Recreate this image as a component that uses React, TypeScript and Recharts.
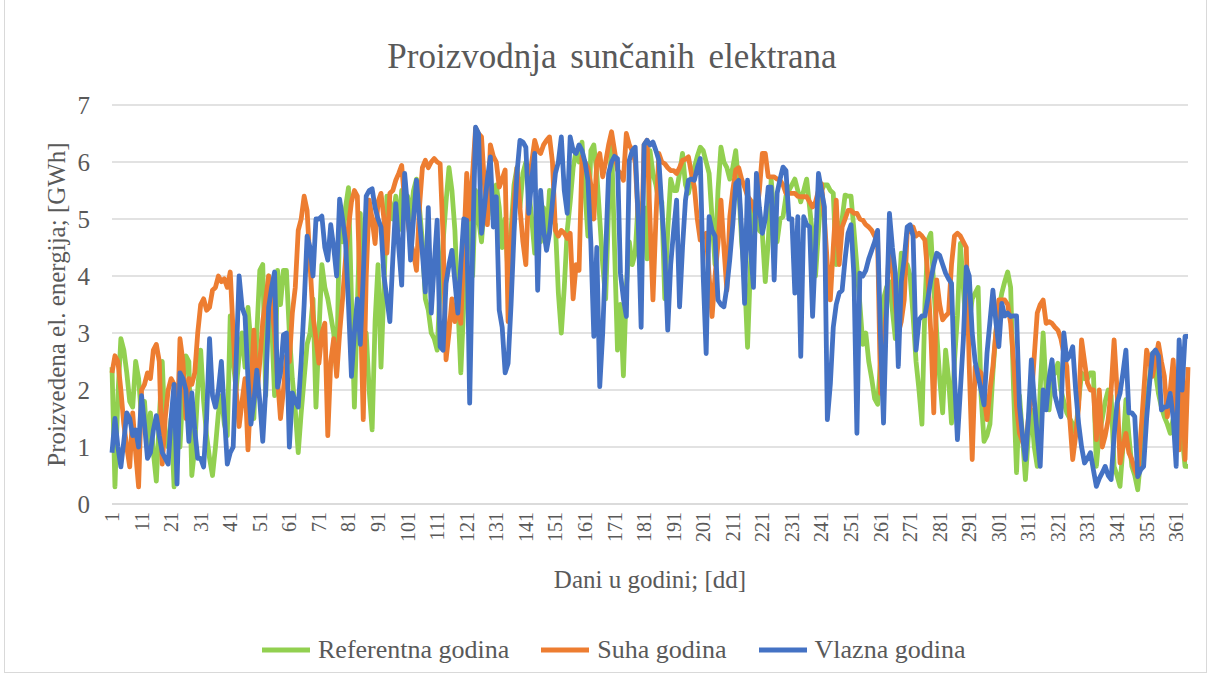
import { LineChart, Line, XAxis, YAxis, CartesianGrid } from 'recharts';

const FONT = '"Liberation Serif", "Times New Roman", serif';
const TEXT = '#595959';

// days of the year (category axis)
const days = Array.from({ length: 365 }, (_, i) => i + 1);
const yTicks = [0, 1, 2, 3, 4, 5, 6, 7];

// Referentna godina [GWh]
const referentna = [
  2.4, 0.3, 1.9, 2.9, 2.7, 2.3, 1.8, 1.7, 2.5, 2.2,
  1.5, 1.8, 1.0, 1.6, 0.9, 0.4, 1.5, 2.5, 1.2, 1.0,
  1.5, 0.3, 1.8, 1.0, 2.0, 2.6, 2.5, 0.5, 1.0, 2.0,
  2.7, 1.8, 1.2, 0.8, 0.5, 1.0, 1.6, 1.9, 1.4, 1.2,
  3.3, 2.5, 2.0, 2.6, 3.0, 2.4, 3.45, 2.8, 1.5, 3.0,
  4.1, 4.2, 1.9, 4.0, 3.2, 1.9, 4.1, 3.5, 4.1, 4.1,
  3.0, 2.2, 1.65, 0.9, 1.6, 2.2, 2.8, 3.0, 3.6, 1.7,
  3.0, 4.2, 3.8, 3.6, 3.3, 3.0, 2.3, 5.0, 4.6, 5.2,
  5.55, 3.6, 1.7, 3.5, 5.1, 2.2, 3.0, 2.0, 1.3, 3.2,
  4.2, 2.4, 3.8, 5.4, 5.3, 5.0, 5.4, 4.8, 5.5, 5.3,
  5.4, 5.0, 5.5, 5.7, 5.2, 4.6, 3.6, 3.4, 3.0, 2.9,
  2.7, 3.8, 4.6, 5.3, 5.9, 5.5, 4.8, 3.5, 2.3, 3.5,
  4.8, 5.2, 4.0, 5.5, 5.0, 4.6, 5.3, 5.8, 5.5, 5.0,
  5.6, 5.2, 4.5, 5.0, 4.0, 4.8, 5.6, 5.9, 5.2, 5.8,
  6.0, 5.5, 5.0, 4.4, 5.0, 4.6, 5.2, 4.6, 5.5, 5.0,
  4.9, 3.7, 3.0, 3.8, 4.8, 5.3, 5.9, 6.2, 6.0, 6.35,
  5.5, 4.7, 6.2, 6.3, 5.8, 5.0, 4.2, 3.6, 5.2, 6.35,
  4.5, 2.7, 3.5, 2.25, 3.8, 4.6, 4.2, 4.4, 5.3, 5.0,
  5.2, 4.3, 6.2, 5.8, 5.6, 5.3, 5.3, 3.6, 4.8, 5.7,
  5.5, 5.5, 5.8, 6.15, 5.6, 5.45, 5.7, 5.9, 6.1, 6.26,
  6.2, 6.0, 5.8, 5.0, 4.2, 5.5, 6.26, 6.0, 5.9, 5.7,
  5.9, 6.2, 5.6, 4.6, 4.0, 2.75, 4.2, 5.3, 5.0, 4.8,
  4.75, 3.9, 4.6, 5.7, 5.0, 4.6, 5.0, 5.04, 5.4, 5.5,
  5.6, 5.7, 5.5, 5.3, 5.5, 5.7, 5.2, 4.7, 4.0, 4.8,
  5.5, 5.6, 5.6, 5.5, 5.45, 4.2, 4.8, 5.0, 5.42, 5.4,
  5.4, 4.8, 4.16, 3.5, 2.8, 3.0, 2.5, 2.2, 1.85, 1.75,
  2.5, 3.6, 3.8, 3.9, 3.4, 2.9, 3.5, 4.4, 4.0, 4.2,
  4.0, 3.3, 2.5, 2.0, 1.4, 3.5, 4.63, 4.75, 3.8, 3.0,
  2.2, 1.6, 2.7, 2.2, 1.42, 2.5, 3.3, 4.57, 3.8, 3.0,
  3.2, 3.6, 3.7, 3.8, 1.9, 1.1, 1.2, 1.4, 2.3, 3.0,
  3.4, 3.7, 3.9, 4.07, 3.8, 2.0, 0.55, 1.9, 1.2, 0.43,
  1.2, 1.65, 1.0, 0.66, 2.0, 3.0, 2.0, 1.65, 2.24, 2.3,
  2.47, 2.0, 1.8, 1.6, 1.5, 1.4, 1.24, 1.8, 2.3, 2.2,
  2.2, 2.3, 2.3, 0.66, 1.24, 1.5, 1.8, 2.0, 1.9, 0.66,
  0.5, 0.31, 1.0, 1.83, 1.2, 0.66, 0.5, 0.25, 0.8, 1.24,
  1.8, 2.2, 2.64, 2.3, 1.94, 1.7, 1.53, 1.4, 1.24, 1.5,
  1.8, 1.83, 1.2, 0.66, 0.66,
];

// Suha godina [GWh]
const suha = [
  2.3, 2.6, 2.5, 2.0, 1.4, 1.0, 0.65, 1.6, 0.9, 0.3,
  2.0, 2.1, 2.3, 2.2, 2.7, 2.8, 2.5, 0.7, 1.5, 2.0,
  2.2, 2.1, 1.2, 2.9, 2.5, 1.5, 2.2, 2.1, 2.3, 3.0,
  3.5, 3.6, 3.4, 3.45, 3.75, 3.8, 4.0, 3.9, 3.95, 3.8,
  4.07, 3.0, 2.0, 1.36, 1.8, 2.2, 0.95, 2.0, 3.05, 1.9,
  2.5, 3.2, 3.6, 4.0, 3.5, 3.0, 2.2, 1.5, 2.0, 2.6,
  2.5, 3.35, 3.8, 4.8, 5.0, 5.4, 5.15, 4.2, 3.3, 2.9,
  2.47, 3.0, 3.17, 1.2, 2.5, 2.9, 2.24, 3.0, 3.6, 4.3,
  4.86, 5.3, 5.5, 5.4, 3.5, 1.48, 4.0, 5.33, 5.0, 4.57,
  5.3, 5.45, 5.0, 4.4, 5.45, 5.5, 5.68, 5.8, 5.94, 5.3,
  5.0, 4.6, 4.4, 4.1, 5.2, 5.9, 6.03, 5.9, 6.0, 6.06,
  6.0, 5.97, 4.7, 2.53, 3.0, 3.6, 3.2, 3.5, 3.17, 4.5,
  5.8, 5.0, 5.8, 6.6, 6.5, 6.44, 5.6, 4.9, 6.3, 6.1,
  6.0, 5.56, 5.7, 5.86, 3.2, 4.6, 5.33, 5.9, 5.2, 4.6,
  4.2, 5.62, 6.0, 6.38, 6.2, 6.15, 6.3, 6.38, 6.44, 6.0,
  4.8, 4.7, 4.8, 4.75, 4.66, 4.75, 3.6, 4.2, 4.1, 6.09,
  6.0, 5.9, 5.6, 5.0, 6.0, 6.15, 5.74, 6.0, 6.3, 6.53,
  6.2, 5.86, 5.8, 5.68, 6.5, 6.3, 6.2, 6.0, 5.0, 4.28,
  6.3, 6.38, 5.0, 3.58, 5.0, 6.15, 6.0, 5.97, 5.9, 5.85,
  5.85, 5.8, 5.9, 6.03, 6.05, 6.09, 5.8, 5.56, 5.0, 4.63,
  4.7, 4.75, 4.0, 3.29, 4.0, 4.57, 5.33, 4.5, 3.75, 5.04,
  5.5, 5.86, 5.9, 5.7, 5.56, 5.4, 5.33, 5.2, 5.04, 5.5,
  6.15, 6.15, 5.74, 5.74, 5.74, 5.7, 5.68, 5.6, 5.45, 5.45,
  5.45, 5.45, 5.4, 5.39, 5.39, 5.39, 5.3, 5.21, 5.3, 5.5,
  5.62, 5.0, 4.2, 3.58, 4.5, 5.33, 4.2, 4.86, 5.0, 5.15,
  5.15, 5.1, 5.1, 5.0, 4.98, 4.9, 4.86, 4.8, 4.7, 4.63,
  1.94, 2.8, 3.46, 4.63, 4.16, 3.5, 3.0, 3.2, 3.58, 4.75,
  4.8, 4.86, 4.7, 4.75, 4.7, 4.63, 4.0, 3.0, 1.6, 3.93,
  3.5, 3.23, 3.3, 3.35, 4.2, 4.7, 4.75, 4.7, 4.6, 4.5,
  2.41, 0.78, 2.41, 2.35, 2.3, 1.9, 1.48, 2.0, 2.41, 3.0,
  3.58, 3.58, 3.58, 3.5, 3.17, 2.5, 1.71, 1.24, 1.1, 0.95,
  1.5, 1.83, 2.6, 3.35, 3.5, 3.58, 3.17, 3.2, 3.17, 3.1,
  3.05, 2.9, 2.64, 2.41, 1.5, 0.78, 1.2, 1.71, 2.88, 2.5,
  2.12, 2.0, 2.0, 1.13, 2.0, 1.0, 1.2, 1.48, 2.0, 2.88,
  2.0, 0.72, 1.0, 1.24, 0.9, 0.78, 0.6, 0.48, 1.2, 1.94,
  2.7, 2.5, 2.24, 2.5, 2.82, 2.5, 2.24, 1.53, 2.0, 2.53,
  1.5, 0.95, 2.53, 0.78, 2.4,
];

// Vlazna godina [GWh]
const vlazna = [
  0.9, 1.5, 1.0, 0.65, 1.1, 1.6, 1.5, 1.2, 1.3, 1.0,
  1.9, 1.4, 0.8, 0.9, 1.3, 1.55, 1.2, 0.9, 0.8, 0.7,
  1.5, 2.1, 0.35, 2.3, 2.2, 2.0, 1.1, 1.95, 1.3, 0.8,
  0.8, 0.65, 1.5, 2.9, 1.9, 1.7, 2.0, 2.5, 1.6, 0.7,
  0.9, 1.0, 2.5, 4.0, 3.45, 3.3, 2.2, 1.4, 1.8, 2.35,
  1.8, 1.1, 2.0, 3.45, 3.8, 4.07, 2.05, 2.3, 2.97, 3.0,
  1.0, 1.95, 1.8, 1.7, 2.5, 3.5, 4.7, 4.5, 4.0, 5.0,
  5.0, 5.05, 4.5, 4.28, 4.9, 4.5, 4.0, 5.35, 5.0, 4.6,
  3.5, 2.24, 3.0, 3.6, 2.8, 4.0, 5.4, 5.5, 5.53, 5.2,
  5.0, 4.86, 4.0, 3.6, 3.2, 4.3, 5.27, 4.5, 3.84, 5.8,
  5.2, 4.28, 5.0, 5.68, 5.0, 4.4, 3.72, 5.2, 3.35, 4.2,
  4.98, 2.76, 2.7, 3.87, 4.2, 4.45, 3.9, 3.35, 4.2, 5.0,
  4.98, 1.77, 4.5, 6.61, 6.5, 4.75, 5.2, 5.7, 6.09, 4.86,
  5.39, 3.4, 3.1, 2.3, 2.47, 3.5, 4.75, 5.8, 6.38, 6.35,
  6.26, 5.1, 5.7, 6.15, 3.75, 5.5, 4.8, 4.45, 4.75, 5.3,
  5.8, 6.0, 6.44, 5.5, 5.1, 6.44, 6.2, 6.15, 6.3, 6.2,
  6.0, 5.68, 4.57, 2.94, 4.5, 2.06, 3.0, 4.4, 5.8, 6.0,
  6.1, 6.06, 4.05, 3.6, 3.29, 6.03, 6.2, 6.26, 5.0, 3.1,
  6.3, 6.38, 6.3, 6.35, 6.2, 6.03, 5.2, 4.4, 3.05, 4.2,
  4.8, 5.33, 3.46, 4.5, 5.33, 5.68, 5.7, 5.68, 5.9, 6.06,
  4.0, 2.64, 5.04, 4.8, 4.7, 3.58, 3.5, 3.46, 3.8, 4.3,
  4.9, 5.62, 5.68, 4.8, 3.52, 5.68, 4.5, 3.8, 5.8, 5.2,
  4.75, 5.0, 5.56, 5.56, 3.93, 5.45, 5.7, 5.91, 5.85, 5.0,
  5.0, 3.7, 5.04, 2.59, 5.04, 4.9, 4.86, 3.29, 4.5, 5.8,
  5.5, 5.21, 1.48, 2.1, 3.1, 3.5, 3.7, 3.75, 4.3, 4.75,
  4.9, 4.0, 1.24, 4.05, 4.0, 4.1, 4.3, 4.45, 4.6, 4.8,
  2.9, 1.42, 3.35, 5.1, 4.5, 4.05, 2.41, 3.9, 4.3, 4.86,
  4.9, 4.7, 2.7, 3.23, 3.3, 3.3, 3.6, 3.93, 4.2, 4.4,
  4.36, 4.2, 4.05, 3.95, 3.87, 2.24, 1.13, 2.0, 2.88, 4.16,
  4.0, 3.0, 2.5, 2.24, 2.0, 1.74, 2.64, 3.2, 3.75, 3.2,
  2.76, 3.52, 3.3, 3.35, 3.29, 3.3, 3.3, 1.71, 1.2, 0.78,
  1.5, 2.53, 1.83, 1.2, 0.66, 2.0, 1.65, 2.2, 2.53, 1.9,
  1.7, 1.53, 3.0, 2.53, 2.6, 2.76, 2.0, 1.41, 1.0, 0.72,
  0.8, 0.9, 0.6, 0.31, 0.45, 0.55, 0.66, 0.5, 0.43, 1.2,
  1.77, 1.94, 2.3, 2.7, 1.6, 1.6, 1.53, 0.48, 0.6, 0.66,
  1.5, 2.12, 2.64, 2.7, 2.6, 1.65, 1.7, 1.71, 1.94, 1.5,
  0.66, 2.88, 2.0, 2.94, 2.94,
];

const series = [
  { key: 'referentna', name: 'Referentna godina', color: '#92D050' },
  { key: 'suha', name: 'Suha godina', color: '#ED7D31' },
  { key: 'vlazna', name: 'Vlazna godina', color: '#4472C4' },
];

const data = days.map((day, i) => ({
  day,
  referentna: referentna[i],
  suha: suha[i],
  vlazna: vlazna[i],
}));

const DayTick = ({ x, y, payload }: any) => (
  <text
    x={x}
    y={y}
    transform={`rotate(-90 ${x} ${y})`}
    textAnchor="end"
    dominantBaseline="central"
    fill={TEXT}
    fontSize={20}
    fontFamily={FONT}
  >
    {payload.value}
  </text>
);

export default function App() {
  return (
    <div style={{ position: 'absolute', left: 0, top: 0, width: 1212, height: 678, background: '#fff', fontFamily: FONT }}>
      <div style={{ position: 'absolute', left: 4, top: -1, width: 1201, height: 672, border: '1px solid #d9d9d9' }} />
      <div style={{ position: 'absolute', left: 6, top: 36, width: 1212, textAlign: 'center', fontSize: 35, lineHeight: '42px', wordSpacing: 5, color: TEXT }}>
        Proizvodnja sunčanih elektrana
      </div>
      <LineChart width={1212} height={678} data={data} margin={{ top: 105, right: 24, bottom: 84, left: 0 }}>
        <CartesianGrid vertical={false} stroke="#d9d9d9" strokeWidth={1.3} />
        <XAxis
          dataKey="day"
          interval={9}
          height={90}
          tick={<DayTick />}
          tickLine={false}
          axisLine={{ stroke: '#d9d9d9', strokeWidth: 1.3 }}
          label={{ value: 'Dani u godini; [dd]', position: 'insideBottom', offset: 6, fill: TEXT, fontSize: 25, fontFamily: FONT }}
        />
        <YAxis
          domain={[0, 7]}
          ticks={yTicks}
          width={112}
          tickLine={false}
          axisLine={false}
          tickMargin={16}
          tick={{ fill: TEXT, fontSize: 25, fontFamily: FONT }}
          label={{ value: 'Proizvedena el. energija; [GWh]', angle: -90, position: 'center', fill: TEXT, fontSize: 25, fontFamily: FONT }}
        />
        {series.map((s) => (
          <Line
            key={s.key}
            type="linear"
            dataKey={s.key}
            name={s.name}
            stroke={s.color}
            strokeWidth={4.8}
            strokeLinejoin="round"
            dot={false}
            isAnimationActive={false}
          />
        ))}
      </LineChart>
      <div style={{ position: 'absolute', left: 262, top: 632, display: 'flex', alignItems: 'center', gap: 32, fontSize: 26, color: TEXT, lineHeight: '36px' }}>
        {series.map((s) => (
          <div key={s.key} style={{ display: 'flex', alignItems: 'center', gap: 8 }}>
            <svg width={48} height={10}>
              <line x1={0} y1={5} x2={48} y2={5} stroke={s.color} strokeWidth={4.8} />
            </svg>
            <span>{s.name}</span>
          </div>
        ))}
      </div>
    </div>
  );
}
